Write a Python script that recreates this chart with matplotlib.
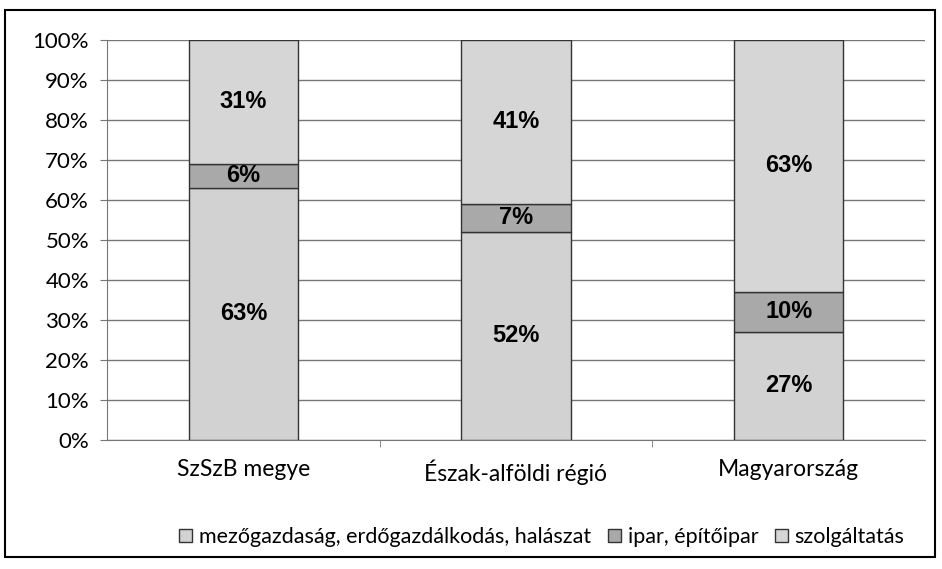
import numpy as np
import matplotlib.pyplot as plt
from matplotlib.patches import Rectangle

categories = ['SzSzB megye', 'Észak-alföldi régió', 'Magyarország']
series_names = ['mezőgazdaság, erdőgazdálkodás, halászat', 'ipar, építőipar', 'szolgáltatás']
agri = [63, 52, 27]
ind = [6, 7, 10]
serv = [31, 41, 63]
colors = ['#d2d2d2', '#a9a9a9', '#d6d6d6']

fig = plt.figure(figsize=(9.42, 5.69), dpi=100)
ax = fig.add_axes([107/942, 1-440/569, 818/942, 400/569])

x = np.arange(len(categories))
bottom = np.zeros(len(categories))
for vals, col, name in zip([agri, ind, serv], colors, series_names):
    bars = ax.bar(x, vals, 0.4, bottom=bottom, color=col, edgecolor='#333333',
                  linewidth=1, label=name, zorder=3)
    for xi, b, v in zip(x, bottom, vals):
        ax.text(xi, b + v/2, f'{v}%', ha='center', va='center', fontsize=17,
                fontweight='bold', family='Liberation Sans', zorder=4)
    bottom += np.array(vals)

ax.set_xlim(-0.5, 2.5)
ax.set_ylim(0, 100)
ax.set_yticks(range(0, 101, 10))
ax.set_yticklabels([f'{v}%' for v in range(0, 101, 10)], fontsize=16, family='Lato')
ax.set_xticks(x)
ax.set_xticklabels(categories, fontsize=16.5, family='Lato')
ax.set_xticks([0.5, 1.5], minor=True)
ax.tick_params(axis='x', which='major', length=0, pad=14)
ax.tick_params(axis='x', which='minor', length=5, color='#777777')
ax.tick_params(axis='y', length=5, color='#777777', pad=8)
ax.grid(axis='y', color='#777777', linewidth=1, zorder=0)
for s in ['top', 'right']:
    ax.spines[s].set_visible(False)
ax.spines['left'].set_color('#777777')
ax.spines['bottom'].set_color('#777777')

leg = fig.legend(loc='center', bbox_to_anchor=(542/942, 1-537/569), ncol=3, frameon=False,
                 prop={'family': 'Lato', 'size': 15.5}, handlelength=0.6, handleheight=0.6,
                 handletextpad=0.3, columnspacing=0.8)

fig.patches.append(Rectangle((5/942, 1-557/569), 930/942, 547/569, transform=fig.transFigure,
                             fill=False, edgecolor='black', linewidth=1.5))

fig.savefig('out.png', dpi=100)
